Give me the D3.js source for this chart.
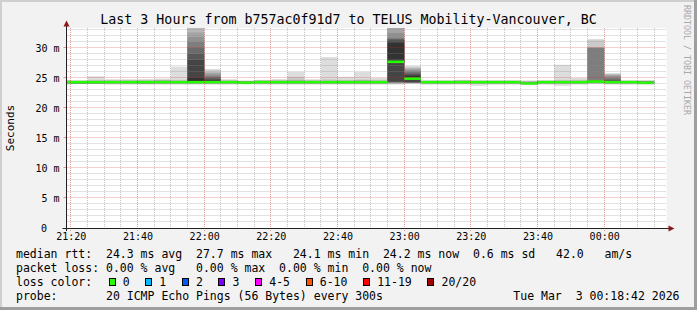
<!DOCTYPE html>
<html>
<head>
<meta charset="utf-8">
<script src="https://cdn.jsdelivr.net/npm/d3@7"></script>
<style>
	html, body { margin: 0; padding: 0; background: #f2f2f2; }
	svg { display: block; }
	text { font-family: "DejaVu Sans Mono", monospace; white-space: pre; }
</style>
</head>
<body>
<script>

// graph window: last 3 hours
var startTime = "21:18:42";
var endTime = "00:18:42";

// start of every 5 minute bin
var binTimes = ["21:15","21:20","21:25","21:30","21:35","21:40","21:45","21:50","21:55",
	"22:00","22:05","22:10","22:15","22:20","22:25","22:30","22:35","22:40","22:45","22:50","22:55",
	"23:00","23:05","23:10","23:15","23:20","23:25","23:30","23:35","23:40","23:45","23:50","23:55",
	"00:00","00:05","00:10"];

// median rtt per bin (ms)
var medians = [24.3,24.3,24.3,24.3,24.3,24.3,24.3,24.3,24.3,24.3,24.3,24.2,
	24.3,24.3,24.3,24.3,24.3,24.3,24.3,24.3,27.7,24.9,24.3,24.3,
	24.3,24.3,24.3,24.3,24.1,24.3,24.3,24.3,24.4,24.3,24.3,24.2];

// lost pings per bin (out of 20)
var lossCount = [0,0,0,0,0,0,0,0,0,0,0,0,0,0,0,0,0,0,0,0,0,0,0,0,0,0,0,0,0,0,0,0,0,0,0,0];

// the 20 sorted ping times of every bin (ms), used for the smoke
var pings = [
	[23.9,24.0,24.1,24.1,24.2,24.2,24.2,24.3,24.3,24.3,24.3,24.4,24.4,24.4,24.5,24.5,24.5,24.6,24.6,24.7],
	[24.0,24.0,24.0,24.1,24.1,24.1,24.1,24.2,24.2,24.3,24.3,24.3,24.4,24.4,24.4,24.5,24.5,24.5,24.6,24.6],
	[24.0,24.0,24.0,24.1,24.1,24.1,24.2,24.2,24.2,24.3,24.3,24.3,24.4,24.4,24.4,24.5,24.5,24.6,24.7,25.3],
	[23.9,24.0,24.1,24.1,24.2,24.2,24.2,24.3,24.3,24.3,24.3,24.4,24.4,24.4,24.5,24.5,24.5,24.6,24.6,24.8],
	[23.9,24.0,24.1,24.1,24.2,24.2,24.2,24.2,24.3,24.3,24.3,24.4,24.4,24.4,24.4,24.5,24.5,24.6,24.6,24.8],
	[23.9,24.0,24.0,24.1,24.1,24.2,24.2,24.3,24.3,24.3,24.3,24.4,24.4,24.4,24.5,24.5,24.5,24.6,24.7,24.8],
	[23.9,24.0,24.1,24.1,24.2,24.2,24.2,24.3,24.3,24.3,24.3,24.4,24.4,24.5,24.5,24.5,24.6,24.6,24.7,24.9],
	[23.9,24.0,24.1,24.1,24.2,24.2,24.2,24.3,24.3,24.3,24.3,24.4,24.4,24.4,24.5,24.5,24.5,24.6,24.7,26.9],
	[23.9,24.0,24.1,24.1,24.2,24.2,24.2,24.3,24.3,24.3,25.0,28.0,29.0,30.0,31.0,31.8,32.6,34.0,38.0,45.0],
	[23.9,24.0,24.1,24.1,24.2,24.2,24.2,24.3,24.3,24.3,24.5,24.7,24.9,25.1,25.3,25.6,25.8,26.0,26.3,26.5],
	[23.9,24.0,24.1,24.1,24.2,24.2,24.2,24.3,24.3,24.3,24.3,24.4,24.4,24.4,24.5,24.5,24.5,24.6,24.6,24.8],
	[24.0,24.0,24.1,24.1,24.1,24.1,24.2,24.2,24.2,24.2,24.3,24.3,24.3,24.3,24.4,24.4,24.4,24.5,24.5,24.6],
	[23.9,24.0,24.1,24.1,24.2,24.2,24.2,24.3,24.3,24.3,24.3,24.4,24.4,24.4,24.5,24.5,24.5,24.6,24.6,24.7],
	[23.9,24.0,24.1,24.1,24.2,24.2,24.2,24.3,24.3,24.3,24.3,24.4,24.4,24.4,24.5,24.5,24.5,24.6,24.7,24.8],
	[23.9,24.0,24.1,24.1,24.2,24.2,24.2,24.3,24.3,24.3,24.3,24.4,24.4,24.4,24.5,24.5,24.6,24.7,25.2,26.0],
	[23.9,24.0,24.1,24.1,24.2,24.2,24.2,24.3,24.3,24.3,24.3,24.4,24.4,24.4,24.5,24.5,24.5,24.6,24.6,24.8],
	[23.9,24.0,24.1,24.1,24.2,24.2,24.2,24.3,24.3,24.3,24.3,24.4,24.4,24.4,24.5,24.5,24.5,24.6,24.8,28.5],
	[23.9,24.0,24.1,24.1,24.2,24.2,24.2,24.3,24.3,24.3,24.3,24.4,24.4,24.4,24.5,24.5,24.5,24.6,24.7,25.2],
	[23.9,24.0,24.1,24.1,24.2,24.2,24.2,24.3,24.3,24.3,24.3,24.4,24.4,24.4,24.5,24.5,24.6,24.6,24.8,26.0],
	[23.9,24.0,24.1,24.1,24.2,24.2,24.2,24.3,24.3,24.3,24.3,24.4,24.4,24.4,24.5,24.5,24.5,24.6,24.7,25.0],
	[23.9,24.0,24.1,24.2,24.2,24.3,24.3,24.4,24.4,27.7,30.8,31.2,31.4,31.5,31.7,32.5,35.0,37.0,40.0,45.0],
	[24.0,24.1,24.2,24.2,24.2,24.3,24.3,24.3,24.3,24.9,25.3,25.5,25.7,25.9,26.1,26.3,26.5,26.7,26.8,27.0],
	[23.9,24.0,24.1,24.1,24.2,24.2,24.2,24.3,24.3,24.3,24.3,24.4,24.4,24.4,24.5,24.5,24.5,24.5,24.6,24.6],
	[23.9,24.0,24.0,24.1,24.2,24.2,24.2,24.3,24.3,24.3,24.3,24.4,24.4,24.4,24.4,24.5,24.5,24.5,24.6,24.6],
	[23.9,24.0,24.1,24.1,24.2,24.2,24.2,24.3,24.3,24.3,24.3,24.4,24.4,24.4,24.5,24.5,24.5,24.6,24.6,24.7],
	[23.7,24.0,24.1,24.1,24.2,24.2,24.2,24.3,24.3,24.3,24.3,24.4,24.4,24.4,24.5,24.5,24.5,24.5,24.6,24.6],
	[23.9,24.0,24.1,24.1,24.2,24.2,24.2,24.3,24.3,24.3,24.3,24.4,24.4,24.4,24.4,24.5,24.5,24.5,24.6,24.6],
	[23.9,24.0,24.1,24.1,24.2,24.2,24.2,24.3,24.3,24.3,24.3,24.4,24.4,24.4,24.4,24.5,24.5,24.5,24.6,24.6],
	[23.8,23.9,24.0,24.0,24.0,24.0,24.1,24.1,24.1,24.1,24.2,24.2,24.2,24.3,24.3,24.3,24.4,24.4,24.5,24.6],
	[23.9,24.0,24.1,24.1,24.2,24.2,24.2,24.3,24.3,24.3,24.3,24.4,24.4,24.4,24.5,24.5,24.5,24.5,24.6,24.6],
	[23.7,24.0,24.1,24.1,24.2,24.2,24.2,24.3,24.3,24.3,24.3,24.4,24.4,24.4,24.5,24.5,24.5,24.6,24.7,27.2],
	[23.9,24.0,24.1,24.1,24.2,24.2,24.2,24.3,24.3,24.3,24.3,24.4,24.4,24.4,24.5,24.5,24.5,24.6,24.7,25.0],
	[24.0,24.1,24.1,24.2,24.2,24.3,24.3,24.3,24.4,24.4,24.4,24.5,24.5,24.6,30.0,30.0,30.1,30.1,31.3,31.5],
	[23.9,24.0,24.1,24.1,24.2,24.2,24.2,24.3,24.3,24.3,24.4,24.5,24.6,24.8,25.0,25.3,25.5,25.6,25.7,25.8],
	[23.9,24.0,24.1,24.1,24.2,24.2,24.2,24.3,24.3,24.3,24.3,24.4,24.4,24.4,24.5,24.5,24.5,24.5,24.6,24.6],
	[23.9,24.0,24.0,24.1,24.1,24.1,24.2,24.2,24.2,24.2,24.3,24.3,24.3,24.4,24.4,24.4,24.5,24.5,24.6,24.6]
];

// axis ticks
var xTickLabels = ["21:20","21:40","22:00","22:20","22:40","23:00","23:20","23:40","00:00"];
var yTickValues = [0, 5, 10, 15, 20, 25, 30];
var yMax = 33.333;

// loss color legend
var lossLabels = ["0", "1", "2", "3", "4-5", "6-10", "11-19", "20/20"];
var lossLimits = [0, 1, 2, 3, 5, 10, 19, 20];
var lossColors = ["#26ff00", "#00b8ff", "#0059ff", "#7e00ff", "#ff00ff", "#ff5500", "#ff0000", "#a10000"];

// legend text lines
var titleText = "Last 3 Hours from b757ac0f91d7 to TELUS Mobility-Vancouver, BC";
var rttLine = "median rtt:  24.3 ms avg  27.7 ms max   24.1 ms min  24.2 ms now  0.6 ms sd   42.0   am/s";
var lossLine = "packet loss: 0.00 % avg   0.00 % max  0.00 % min  0.00 % now";
var probeLine = "probe:       20 ICMP Echo Pings (56 Bytes) every 300s";
var dateLine = "Tue Mar  3 00:18:42 2026";


// bins after midnight belong to the next day
function parseTime(s) {
	var p = s.split(":");
	var d = new Date(2026, 2, 2, +p[0], +p[1], +(p[2] || 0));
	if (+p[0] < 12) d.setDate(3);
	return d;
}

var width = 697, height = 310;
var plot = {left: 66.5, right: 666.5, top: 28, bottom: 228};

var svg = d3.select("body")
			.append("svg")
			.attr("width", width)
			.attr("height", height);

// background with 3d border
svg.append("rect")
   .attr("width", width)
   .attr("height", height)
   .attr("fill", "#f2f2f2");
svg.append("path")
   .attr("d", "M0,0H697V2H2V310H0Z")
   .attr("fill", "#cfcfcf");
svg.append("path")
   .attr("d", "M697,0V310H0V307H694V0Z")
   .attr("fill", "#9e9e9e");

// white canvas
svg.append("rect")
   .attr("x", plot.left)
   .attr("y", plot.top)
   .attr("width", plot.right - plot.left)
   .attr("height", plot.bottom - plot.top)
   .attr("fill", "#ffffff");

// scales
var xScale = d3.scaleTime()
			   .domain([parseTime(startTime), parseTime(endTime)])
			   .range([plot.left, plot.right]);

var yScale = d3.scaleLinear()
			   .domain([0, yMax])
			   .range([plot.bottom, plot.top]);

svg.append("clipPath")
   .attr("id", "plotClip")
   .append("rect")
   .attr("x", plot.left)
   .attr("y", plot.top)
   .attr("width", plot.right - plot.left)
   .attr("height", plot.bottom - plot.top);

var graph = svg.append("g").attr("clip-path", "url(#plotClip)");

// bin edges
var bins = binTimes.map(function(t, i) {
	var t0 = parseTime(t);
	var t1 = new Date(t0.getTime() + 5 * 60 * 1000);
	return {x0: Math.max(xScale(t0), plot.left), x1: xScale(t1), pings: pings[i], median: medians[i], loss: lossCount[i]};
});

// smoke: layer i spans ping i .. ping 21-i, darker towards the middle
for (var ibot = 1; ibot <= 10; ibot++) {
	var grey = Math.floor(190 / 10 * (10 - ibot)) + 50;
	var col = d3.rgb(grey, grey, grey).formatHex();
	graph.selectAll(".smoke" + ibot)
		 .data(bins)
		 .enter()
		 .append("rect")
		 .attr("class", "smoke" + ibot)
		 .attr("x", function(d) { return d.x0; })
		 .attr("width", function(d) { return d.x1 - d.x0; })
		 .attr("y", function(d) { return yScale(d.pings[20 - ibot]); })
		 .attr("height", function(d) { return yScale(d.pings[ibot - 1]) - yScale(d.pings[20 - ibot]); })
		 .attr("fill", col);
}

// median band, coloured by packet loss
function lossColor(n) {
	for (var i = 0; i < lossLimits.length; i++) {
		if (n <= lossLimits[i]) return lossColors[i];
	}
	return lossColors[lossColors.length - 1];
}

graph.selectAll(".median")
	 .data(bins)
	 .enter()
	 .append("rect")
	 .attr("class", "median")
	 .attr("x", function(d) { return d.x0; })
	 .attr("width", function(d) { return d.x1 - d.x0; })
	 .attr("y", function(d) { return yScale(d.median) - 1.3; })
	 .attr("height", 2.6)
	 .attr("fill", function(d) { return lossColor(d.loss); });

// grid, drawn over the data like rrdtool
var minorColor = "rgba(140,140,140,0.5)";
var majorColor = "rgba(210,40,40,0.45)";

var minorY = d3.range(1, 34).filter(function(v) { return v % 5 != 0; });
var majorY = yTickValues.filter(function(v) { return v > 0; });

var allMinutes = d3.timeMinute.every(5).range(parseTime("21:20"), parseTime("00:18"));
var majorX = xTickLabels.map(parseTime);
var minorX = allMinutes.filter(function(t) { return t.getMinutes() % 20 != 0; });

function px(v) { return Math.floor(v) + 0.5; }

svg.selectAll(".gridMinorY")
   .data(minorY)
   .enter()
   .append("line")
   .attr("x1", plot.left).attr("x2", plot.right)
   .attr("y1", function(d) { return px(yScale(d)); })
   .attr("y2", function(d) { return px(yScale(d)); })
   .attr("stroke", minorColor)
   .attr("stroke-dasharray", "1,1");

svg.selectAll(".gridMinorX")
   .data(minorX)
   .enter()
   .append("line")
   .attr("y1", plot.top).attr("y2", plot.bottom)
   .attr("x1", function(d) { return px(xScale(d)); })
   .attr("x2", function(d) { return px(xScale(d)); })
   .attr("stroke", minorColor)
   .attr("stroke-dasharray", "1,1");

svg.selectAll(".gridMajorY")
   .data(majorY)
   .enter()
   .append("line")
   .attr("x1", plot.left).attr("x2", plot.right)
   .attr("y1", function(d) { return px(yScale(d)); })
   .attr("y2", function(d) { return px(yScale(d)); })
   .attr("stroke", majorColor)
   .attr("stroke-dasharray", "1,1");

svg.selectAll(".gridMajorX")
   .data(majorX)
   .enter()
   .append("line")
   .attr("y1", plot.top).attr("y2", plot.bottom + 3)
   .attr("x1", function(d) { return px(xScale(d)); })
   .attr("x2", function(d) { return px(xScale(d)); })
   .attr("stroke", majorColor)
   .attr("stroke-dasharray", "1,1");

// small tick marks on the y axis
svg.selectAll(".tickY")
   .data(yTickValues)
   .enter()
   .append("line")
   .attr("x1", plot.left - 3).attr("x2", plot.left)
   .attr("y1", function(d) { return px(yScale(d)); })
   .attr("y2", function(d) { return px(yScale(d)); })
   .attr("stroke", majorColor);

// axis labels with d3 axes
var yAxis = svg.append("g")
			   .attr("transform", "translate(" + plot.left + ",0)")
			   .call(d3.axisLeft(yScale)
					   .tickValues(yTickValues)
					   .tickSize(0)
					   .tickPadding(7)
					   .tickFormat(function(d) { return d == 0 ? "0" : d + " m"; }));

// the zero label has no unit, rrdtool keeps it under the digits
yAxis.selectAll(".tick text")
	 .filter(function(d) { return d == 0; })
	 .attr("dx", -12.5);

var xAxis = svg.append("g")
			   .attr("transform", "translate(0," + plot.bottom + ")")
			   .call(d3.axisBottom(xScale)
					   .tickValues(majorX)
					   .tickSize(0)
					   .tickPadding(5)
					   .tickFormat(d3.timeFormat("%H:%M")));

svg.selectAll(".domain").remove();
svg.selectAll(".tick text")
   .attr("font-family", "DejaVu Sans Mono, monospace")
   .attr("font-size", "10px")
   .attr("fill", "#000");

// axis lines with arrows
svg.append("line")
   .attr("x1", plot.left - 4).attr("x2", 671)
   .attr("y1", plot.bottom + 0.5).attr("y2", plot.bottom + 0.5)
   .attr("stroke", "#222");
svg.append("line")
   .attr("x1", plot.left).attr("x2", plot.left)
   .attr("y1", plot.bottom + 3).attr("y2", 25)
   .attr("stroke", "#222");
svg.append("path")
   .attr("d", "M668.5,225.5L674.5,228.5L668.5,231.5Z")
   .attr("fill", "#8b1a1a");
svg.append("path")
   .attr("d", "M63.5,26.5L66.5,20.5L69.5,26.5Z")
   .attr("fill", "#8b1a1a");

// title
svg.append("text")
   .attr("x", 348.5)
   .attr("y", 24)
   .attr("text-anchor", "middle")
   .style("font-size", "13.3px")
   .text(titleText);

// y axis label
svg.append("text")
   .attr("transform", "translate(14," + ((plot.top + plot.bottom) / 2) + ") rotate(-90)")
   .attr("text-anchor", "middle")
   .style("font-size", "11px")
   .text("Seconds");

// rrdtool watermark
svg.append("text")
   .attr("transform", "translate(684,5) rotate(90)")
   .style("font-size", "8.3px")
   .attr("fill", "#a8a8a8")
   .text("RRDTOOL / TOBI OETIKER");

// legend lines
var legendFont = "11.5px";
var rows = [rttLine, lossLine, "loss color:", probeLine];
svg.selectAll(".legendRow")
   .data(rows)
   .enter()
   .append("text")
   .attr("class", "legendRow")
   .attr("x", 16)
   .attr("y", function(d, i) { return 258.3 + i * 14; })
   .style("font-size", legendFont)
   .text(function(d) { return d; });

svg.append("text")
   .attr("x", 679.5)
   .attr("y", 300.3)
   .attr("text-anchor", "end")
   .style("font-size", legendFont)
   .text(dateLine);

// loss colour boxes, laid out one after another
var cursor = 108.5;
lossLabels.forEach(function(label, i) {
	svg.append("rect")
	   .attr("x", Math.round(cursor) + 0.5)
	   .attr("y", 278.5)
	   .attr("width", 6)
	   .attr("height", 7)
	   .attr("fill", lossColors[i])
	   .attr("stroke", "#000");
	var t = svg.append("text")
			   .attr("x", cursor + 14.2)
			   .attr("y", 286.3)
			   .style("font-size", legendFont)
			   .text(label);
	cursor = cursor + 14.2 + t.node().getComputedTextLength() + 15.5;
});

</script>
</body>
</html>
